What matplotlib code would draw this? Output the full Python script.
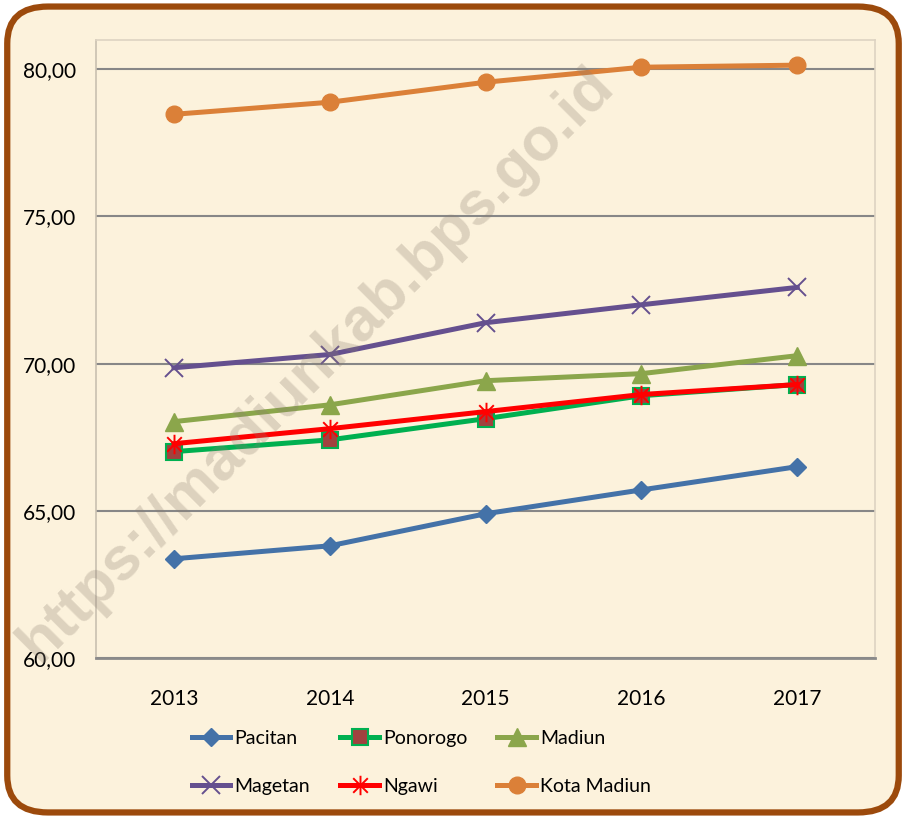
import numpy as np
import matplotlib
matplotlib.use("Agg")
import matplotlib.pyplot as plt
from matplotlib.patches import FancyBboxPatch
from matplotlib.path import Path
from matplotlib.ticker import FuncFormatter

plt.rcParams['font.family'] = ['Lato', 'DejaVu Sans']

# data
years = ["2013", "2014", "2015", "2016", "2017"]
pacitan = [63.37, 63.81, 64.90, 65.71, 66.50]
ponorogo = [67.01, 67.41, 68.13, 68.91, 69.29]
madiun = [68.03, 68.60, 69.42, 69.66, 70.27]
magetan = [69.86, 70.31, 71.39, 72.00, 72.59]
ngawi = [67.28, 67.79, 68.37, 68.95, 69.29]
kota_madiun = [78.47, 78.88, 79.56, 80.07, 80.14]
yticks = [60, 65, 70, 75, 80]

bg = "#FCF2DC"
fig = plt.figure(figsize=(9.06, 8.19), dpi=100)
fig.patch.set_facecolor("white")

# rounded brown frame
frame = FancyBboxPatch((0.008, 0.008), 0.984, 0.984,
                       boxstyle="round,pad=0,rounding_size=0.045",
                       transform=fig.transFigure, facecolor=bg,
                       edgecolor="#9C4A0C", linewidth=4.5, zorder=-1)
fig.patches.append(frame)

# watermark
fig.text(0.35, 0.555, "https://madiunkab.bps.go.id", rotation=45,
         fontsize=44, fontweight="bold", family="Liberation Sans",
         color="#8C7F70", alpha=0.28, ha="center", va="center", zorder=5)

# excel style star marker: vertical bar plus an X
star = Path([(0, -1), (0, 1), (-0.75, -0.75), (0.75, 0.75),
             (-0.75, 0.75), (0.75, -0.75)],
            [Path.MOVETO, Path.LINETO, Path.MOVETO, Path.LINETO,
             Path.MOVETO, Path.LINETO])

ax = fig.add_axes([0.106, 0.1966, 0.86, 0.7544])
ax.set_facecolor("none")
x = np.arange(len(years))

lw = 3.6
l1, = ax.plot(x, pacitan, color="#4472A8", lw=lw, marker="D", ms=9,
              mfc="#4472A8", mec="#4472A8", label="Pacitan", zorder=3)
l2, = ax.plot(x, ponorogo, color="#00B050", lw=lw, marker="s", ms=11,
              mfc="#A0423F", mec="#00B050", mew=1.5, label="Ponorogo", zorder=3)
l3, = ax.plot(x, madiun, color="#8BA64B", lw=lw, marker="^", ms=13,
              mfc="#8BA64B", mec="#8BA64B", label="Madiun", zorder=3)
l4, = ax.plot(x, magetan, color="#65508F", lw=lw, marker="x", ms=13,
              mec="#65508F", mew=1.4, label="Magetan", zorder=3)
l5, = ax.plot(x, ngawi, color="#FF0000", lw=lw, marker=star, ms=14,
              mec="#FF0000", mew=1.4, label="Ngawi", zorder=3)
l6, = ax.plot(x, kota_madiun, color="#DB8038", lw=lw, marker="o", ms=12,
              mfc="#DB8038", mec="#DB8038", label="Kota Madiun", zorder=3)

ax.set_xlim(-0.5, 4.5)
ax.set_ylim(60, 80.99)
ax.set_xticks(x)
ax.set_xticklabels(years)
ax.set_yticks(yticks)
ax.yaxis.set_major_formatter(FuncFormatter(lambda v, p: f"{v:.2f}".replace(".", ",")))
ax.tick_params(axis="both", length=0, labelsize=15, colors="black")
ax.tick_params(axis="y", pad=14)
ax.tick_params(axis="x", pad=22)
ax.grid(axis="y", color="#878787", lw=1.5, zorder=1)
ax.set_axisbelow(True)

for s in ["top", "right"]:
    ax.spines[s].set_color("#DDD3C2")
    ax.spines[s].set_linewidth(1.2)
ax.spines["left"].set_color("#C9C0B0")
ax.spines["left"].set_linewidth(1.2)
ax.spines["bottom"].set_color("#8A8A8A")
ax.spines["bottom"].set_linewidth(2)

# legend filled row by row like the original
handles = [l1, l4, l2, l5, l3, l6]
fig.legend(handles=handles, labels=[h.get_label() for h in handles],
           loc="center", bbox_to_anchor=(0.465, 0.069), ncol=3,
           frameon=False, fontsize=14, handlelength=2.0, handletextpad=0.2,
           columnspacing=1.55, labelspacing=1.6)

fig.savefig("out.png", dpi=100)
